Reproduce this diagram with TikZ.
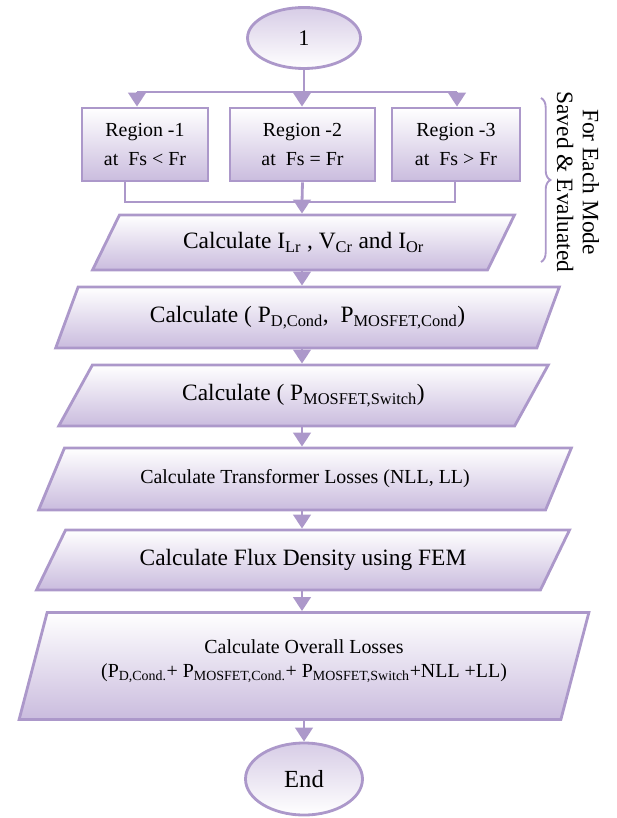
\documentclass[tikz,border=0pt]{standalone}
\usepackage{fontspec}
\setmainfont{Liberation Serif}
\usetikzlibrary{shapes.geometric, arrows.meta, decorations.pathreplacing}

\definecolor{flowline}{RGB}{172,152,202}
\definecolor{flowfill}{RGB}{202,188,222}

\begin{document}
\begin{tikzpicture}[x=0.03cm, y=-0.03cm, line width=2.4pt,
    every node/.style={font=\fontsize{17}{24}\selectfont, align=center},
    link/.style={draw=flowline},
    arr/.style={draw=flowline, fill=flowline, -{Triangle[width=15pt, length=12pt]}},
    regionbox/.style={rectangle, draw=flowline, top color=white, bottom color=flowfill, minimum height=2.19cm, inner sep=2pt},
    calcbox/.style={trapezium, trapezium stretches=true, draw=flowline, top color=white, bottom color=flowfill, inner sep=2pt},
    terminal/.style={ellipse, draw=flowline, top color=flowfill!75, bottom color=white, inner sep=0pt}]
    \useasboundingbox (0,0) rectangle (616,818);

    % Start
    \node[terminal, minimum width=3.39cm, minimum height=1.83cm, font=\fontsize{19}{24}\selectfont] (start) at (304,38) {1};

    % Three regions
    \node[regionbox, minimum width=3.78cm] (r1) at (145,144.5) {Region -1\\at~ Fs < Fr};
    \node[regionbox, minimum width=4.35cm] (r2) at (302.5,144.5) {Region -2\\at~ Fs = Fr};
    \node[regionbox, minimum width=3.84cm] (r3) at (456,144.5) {Region -3\\at~ Fs > Fr};

    % Calculation steps
    \node[calcbox, trapezium left angle=54, trapezium right angle=126, minimum width=12.69cm, minimum height=1.65cm, font=\fontsize{20}{24}\selectfont] (p1) at (303.5,242.5) {Calculate I\textsubscript{Lr} , V\textsubscript{Cr} and I\textsubscript{Or}};
    \node[calcbox, trapezium left angle=60, trapezium right angle=120, minimum width=15.15cm, minimum height=1.83cm, font=\fontsize{20}{24}\selectfont] (p2) at (307.5,317.5) {Calculate ( P\textsubscript{D,Cond}, ~P\textsubscript{MOSFET,Cond})};
    \node[calcbox, trapezium left angle=54, trapezium right angle=126, minimum width=14.73cm, minimum height=1.83cm, font=\fontsize{20}{24}\selectfont] (p3) at (303.5,395.5) {Calculate ( P\textsubscript{MOSFET,Switch})};
    \node[calcbox, trapezium left angle=52, trapezium right angle=128, minimum width=16.02cm, minimum height=1.86cm] (p4) at (305,479) {Calculate Transformer Losses (NLL, LL)};
    \node[calcbox, trapezium left angle=52, trapezium right angle=128, minimum width=16.02cm, minimum height=1.8cm, font=\fontsize{20}{24}\selectfont] (p5) at (303,560) {Calculate Flux Density using FEM};
    \node[calcbox, trapezium left angle=69, trapezium right angle=111, minimum width=17.16cm, minimum height=3.21cm, font=\fontsize{17}{21}\selectfont] (p6) at (304,666) {Calculate Overall Losses\\(P\textsubscript{D,Cond.}+ P\textsubscript{MOSFET,Cond.}+ P\textsubscript{MOSFET,Switch}+NLL +LL)\\[-8pt]\mbox{}};

    % End
    \node[terminal, minimum width=3.51cm, minimum height=2.16cm, font=\fontsize{21}{24}\selectfont] (end) at (304,779) {End};

    % Split into the regions
    \coordinate (t1) at (137,92);
    \coordinate (t2) at (302,92);
    \coordinate (t3) at (457,92);
    \draw[link] (start) -- (start.south |- t2);
    \draw[link] (t1) -- (t3);
    \draw[arr] (t1) -- (t1 |- r1.north);
    \draw[arr] (t2) -- (t2 |- r2.north);
    \draw[arr] (t3) -- (t3 |- r3.north);

    % Merge of the regions
    \coordinate (b1) at (125,202);
    \coordinate (b2) at (302,202);
    \coordinate (b3) at (455,202);
    \draw[link] (b1 |- r1.south) -- (b1) -- (b3) -- (b3 |- r3.south);
    \draw[link] (r2.south) -- (b2);
    \draw[arr] (b2) -- (b2 |- p1.north);

    % Chain of steps
    \draw[arr] (p1.south -| b2) -- (b2 |- p2.north);
    \draw[arr] (p2.south -| b2) -- (b2 |- p3.north);
    \draw[arr] (p3.south -| b2) -- (b2 |- p4.north);
    \draw[arr] (p4.south -| b2) -- (b2 |- p5.north);
    \draw[arr] (p5.south -| b2) -- (b2 |- p6.north);
    \draw[arr] (p6.south -| end.north) -- (end);

    % Brace note
    \coordinate (brtop) at (541,98);
    \coordinate (brbot) at (541,262);
    \draw[link, line width=1.6pt, decorate, decoration={brace, amplitude=8pt}] (brtop) -- (brbot);
    \node[rotate=-90, font=\fontsize{20}{22}\selectfont] (note) at (578,182) {For Each Mode\\Saved \& Evaluated};
\end{tikzpicture}
\end{document}
